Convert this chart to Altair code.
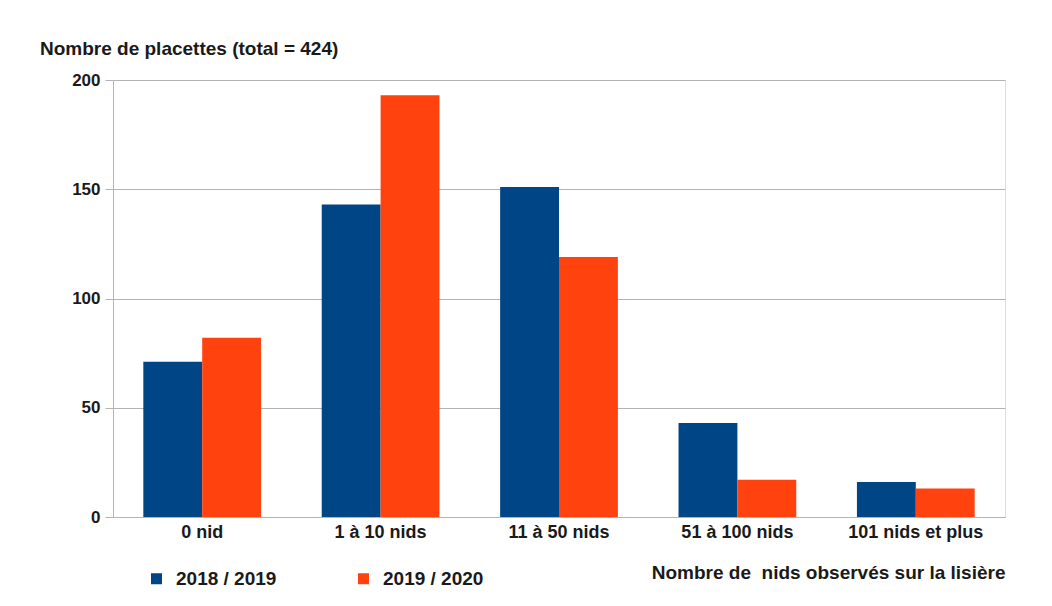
import altair as alt
import pandas as pd

categories = ["0 nid", "1 à 10 nids", "11 à 50 nids", "51 à 100 nids", "101 nids et plus"]
series = ["2018 / 2019", "2019 / 2020"]
values_2018 = [71, 143, 151, 43, 16]
values_2019 = [82, 193, 119, 17, 13]
colors = ["#004586", "#ff420e"]

rows = []
for c, a, b in zip(categories, values_2018, values_2019):
    rows.append({"cat": c, "serie": series[0], "val": a})
    rows.append({"cat": c, "serie": series[1], "val": b})
df = pd.DataFrame(rows)

FONT = "Liberation Sans"
TXT = "#1a1a1a"

chart = alt.Chart(df).mark_bar().encode(
    x=alt.X("cat:N", sort=categories,
            scale=alt.Scale(paddingInner=0.34, paddingOuter=0.17),
            axis=alt.Axis(title="Nombre de \u00a0nids observés sur la lisière",
                          labelAngle=0, labelFont=FONT, labelFontSize=18, labelFontWeight="bold",
                          labelColor=TXT, labelPadding=6, ticks=False, domainColor="#b3b3b3",
                          titleFont=FONT, titleFontSize=19, titleFontWeight="bold", titleColor=TXT,
                          titleAnchor="end", titleAlign="right", titleBaseline="middle",
                          titleY=55, titleX=892)),
    xOffset=alt.XOffset("serie:N", sort=series),
    y=alt.Y("val:Q", scale=alt.Scale(domain=[0, 200]),
            axis=alt.Axis(values=[0, 50, 100, 150, 200], title=None,
                          labelFont=FONT, labelFontSize=17, labelFontWeight="bold", labelColor=TXT,
                          tickSize=8, tickColor="#b3b3b3", domainColor="#b3b3b3",
                          gridColor="#b3b3b3", labelPadding=5)),
    color=alt.Color("serie:N", sort=series,
                    scale=alt.Scale(domain=series, range=colors),
                    legend=alt.Legend(title=None, orient="none", legendX=34, legendY=489,
                                      direction="horizontal", columns=2, columnPadding=77,
                                      symbolType="square", symbolSize=121, symbolStrokeWidth=0,
                                      labelFont=FONT, labelFontSize=19, labelFontWeight="bold",
                                      labelColor=TXT, labelOffset=10)),
).properties(
    width=892, height=437,
    title=alt.TitleParams("Nombre de placettes (total = 424)", anchor="start", frame="group",
                          font=FONT, fontSize=19, fontWeight="bold", color=TXT,
                          dx=-73, offset=12),
    autosize=alt.AutoSizeParams(type="none"),
    padding={"left": 105, "top": 72, "right": 30, "bottom": 80},
).configure_view(stroke="#b3b3b3", strokeWidth=1).configure(background="white")

chart.save("out.html", embed_options={"renderer": "svg", "actions": False})
